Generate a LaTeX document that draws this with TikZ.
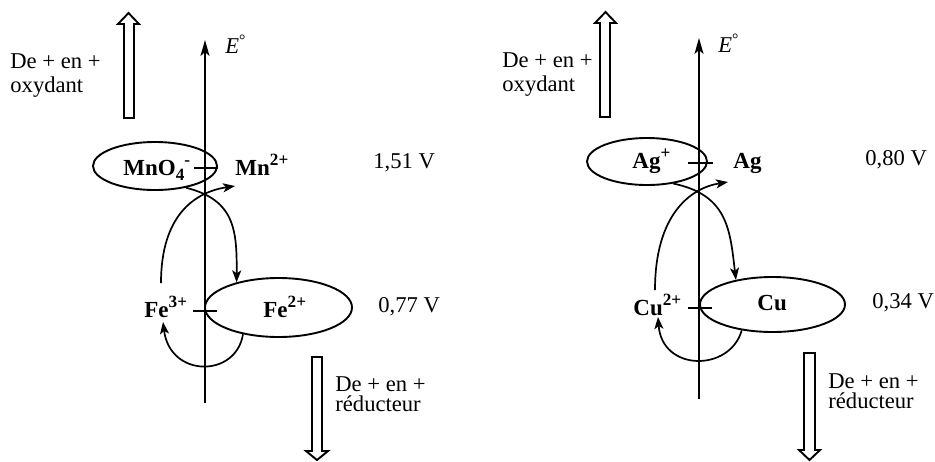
\documentclass[tikz,border=0pt]{standalone}
\usepackage{fontspec}
\setmainfont{Liberation Serif}
\usetikzlibrary{shapes.geometric,arrows.meta}
\newcommand\mysup[1]{\raisebox{0.42em}{\fontsize{8.6}{9}\selectfont\bfseries #1}}
\newcommand\mysub[1]{\raisebox{-0.25em}{\fontsize{8.6}{9}\selectfont\bfseries #1}}
\begin{document}
\begin{tikzpicture}[x=0.5pt,y=-0.5pt,
  font=\fontsize{11.3}{13}\selectfont,
  lbl/.style={anchor=base west, inner sep=0pt},
  spc/.style={anchor=base west, inner sep=0pt, font=\fontsize{11.5}{13}\selectfont\bfseries},
  redox/.style={draw, ellipse, line width=0.95pt, inner sep=0pt},
  axisline/.style={line width=0.85pt, -{Stealth[length=8pt,width=4.5pt,inset=2pt]}},
  flow/.style={line width=0.85pt, -{Stealth[length=6pt,width=4.5pt,inset=1.5pt]}},
  tickline/.style={line width=0.95pt},
  hollow/.style={draw, line width=0.95pt, fill=white, line join=miter}]
\useasboundingbox (0,0) rectangle (935,461);

% ---------------- Left panel ----------------
\coordinate (axLb) at (205,403);
\coordinate (axLt) at (205,40);
\draw[axisline] (axLb) -- (axLt);
\node[lbl] (eL) at (225,53) {\textit{E}\textsuperscript{°}};

\node[redox, minimum width=62pt, minimum height=24pt] (mnoE) at (155,166) {};
\node[redox, minimum width=73.5pt, minimum height=29.5pt] (fe2E) at (278.5,307.5) {};

\node[spc] (mno) at (123,175) {MnO\mysub{4}\mysup{-}};
\node[spc] (mn) at (235,175) {Mn\mysup{2+}};
\node[spc] (fe3) at (144,317) {Fe\mysup{3+}};
\node[spc] (fe2) at (263,317) {Fe\mysup{2+}};

\coordinate (tLa) at (194,168); \coordinate (tLb) at (218,168);
\coordinate (tLc) at (193,311); \coordinate (tLd) at (217,311);
\draw[tickline] (tLa) -- (tLb);
\draw[tickline] (tLc) -- (tLd);

\node[lbl] (v151) at (373,168) {1,51 V};
\node[lbl] (v077) at (378,312) {0,77 V};

\coordinate (bLs) at (161,283);
\coordinate (bLe) at (235,186);
\coordinate (cLe) at (163,322);
\draw[flow] (mnoE.-35) .. controls (235,200) and (237,230) .. (fe2E.149);
\draw[flow] (bLs) .. controls (161,215) and (195,192) .. (bLe);
\draw[flow] (fe2E.-143) .. controls (236,378) and (170,378) .. (cLe);

\draw[hollow] (124,118) -- (124,24) -- (118,24) -- (128.5,13) -- (139,24) -- (134,24) -- (134,118) -- cycle;
\node[lbl] (oxL1) at (10,68) {De + en +};
\node[lbl] (oxL2) at (10,92) {oxydant};

\draw[hollow] (312,357) -- (312,451) -- (306,451) -- (317,460) -- (328,451) -- (322,451) -- (322,357) -- cycle;
\node[lbl] (reL1) at (335,391) {De + en +};
\node[lbl] (reL2) at (335,411) {réducteur};

% ---------------- Right panel ----------------
\coordinate (axRb) at (699,399);
\coordinate (axRt) at (699,38);
\draw[axisline] (axRb) -- (axRt);
\node[lbl] (eR) at (718,52) {\textit{E}\textsuperscript{°}};

\node[redox, minimum width=60pt, minimum height=23.5pt] (agE) at (647,161.5) {};
\node[redox, minimum width=72.5pt, minimum height=27.5pt] (cuE) at (772.5,304.5) {};

\node[spc] (agp) at (632,168) {Ag\mysup{+}};
\node[spc] (agm) at (733,168) {Ag};
\node[spc] (cu2) at (633,315) {Cu\mysup{2+}};
\node[spc] (cum) at (757,310) {Cu};

\coordinate (tRa) at (688,163); \coordinate (tRb) at (713,163);
\coordinate (tRc) at (688,308); \coordinate (tRd) at (712,308);
\draw[tickline] (tRa) -- (tRb);
\draw[tickline] (tRc) -- (tRd);

\node[lbl] (v080) at (865,165) {0,80 V};
\node[lbl] (v034) at (872,308) {0,34 V};

\coordinate (bRs) at (655,290);
\coordinate (bRe) at (728,182);
\coordinate (cRe) at (658,317);
\draw[flow] (agE.-40) .. controls (728,195) and (730,230) .. (cuE.146);
\draw[flow] (bRs) .. controls (655,215) and (690,188) .. (bRe);
\draw[flow] (cuE.-140) .. controls (730,372) and (662,372) .. (cRe);

\draw[hollow] (600,117) -- (600,23) -- (595,23) -- (605.5,12) -- (616,23) -- (610,23) -- (610,117) -- cycle;
\node[lbl] (oxR1) at (502,67) {De + en +};
\node[lbl] (oxR2) at (502,91) {oxydant};

\draw[hollow] (804,353) -- (804,450) -- (799,450) -- (809.5,460) -- (820,450) -- (815,450) -- (815,353) -- cycle;
\node[lbl] (reR1) at (828,388) {De + en +};
\node[lbl] (reR2) at (828,408) {réducteur};
\end{tikzpicture}
\end{document}
